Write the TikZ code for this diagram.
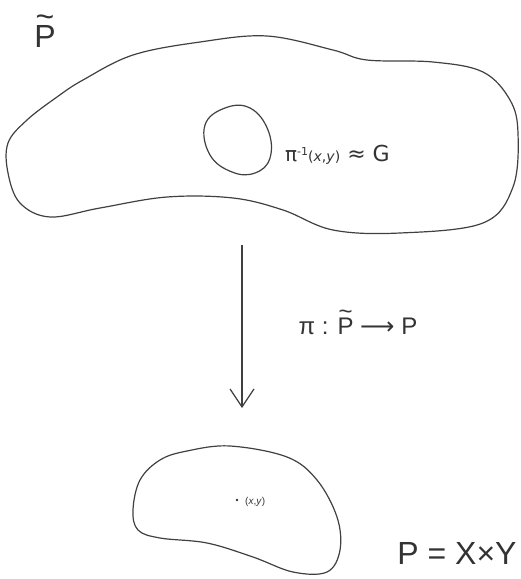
\documentclass[tikz,border=0pt]{standalone}
\usepackage{fontspec}
\setmainfont{Liberation Sans}
\newfontfamily\symf{DejaVu Sans}
\usetikzlibrary{arrows.meta}
\newcommand{\Ptil}{\ooalign{P\cr\hidewidth\raisebox{0.62em}{\textasciitilde}\hidewidth\cr}}
\tikzset{
  sketch/.style={draw=black!75, line width=1.2pt, line join=round},
  lbl/.style={text=black!80, inner sep=0pt},
}
\begin{document}
\begin{tikzpicture}[x=1pt,y=-1pt]
\useasboundingbox (0,0) rectangle (521,579);
% upper blob (P tilde)
\draw[sketch] plot[smooth cycle, tension=0.6] coordinates {
 (57,97) (83,80) (133,55) (200,42) (267,36) (333,50) (367,60) (433,62)
 (483,72) (510,100) (518,133) (513,187) (483,223) (400,233) (333,230)
 (283,210) (233,198) (167,197) (100,208) (50,217) (20,203) (8,173) (8,143) (27,120)};
% fibre
\draw[sketch] plot[smooth cycle, tension=0.7] coordinates {
 (205,125) (225,108) (250,108) (268,130) (270,158) (255,173) (232,172) (210,155)};
\node[lbl, anchor=west, font=\fontsize{20}{22}\selectfont] (fib) at (285,155)
 {\symf π\raisebox{0.6ex}{\fontsize{11}{12}\selectfont -1}\fontsize{14}{15}\selectfont (\textit{x},\textit{y})\fontsize{22}{24}\selectfont\ ≈ G};
\node[lbl, font=\fontsize{32}{34}\selectfont] (Pt) at (45,36) {\Ptil};
% projection arrow
\coordinate (a1) at (242,245);
\coordinate (a2) at (242,408);
\draw[sketch, -{Straight Barb[length=18pt,width=24pt,line width=1.2pt]}] (a1) -- (a2);
\node[lbl, font=\fontsize{24}{26}\selectfont] (map) at (358,326)
 {π : \Ptil\ {\symf ⟶} P};
% lower blob (P)
\draw[sketch] plot[smooth cycle, tension=0.6] coordinates {
 (187,451) (230,446) (287,457) (317,480) (337,517) (340,550) (327,572)
 (293,572) (253,557) (207,543) (160,538) (138,530) (133,510) (140,480) (160,460)};
\fill[black!80] (237,500) circle (1.4pt);
\node[lbl, anchor=west, font=\fontsize{10}{11}\selectfont] (pt) at (245,502) {(\textit{x},\textit{y})};
\node[lbl, font=\fontsize{32}{34}\selectfont] (prod) at (457,553) {P = X×Y};
\end{tikzpicture}
\end{document}
